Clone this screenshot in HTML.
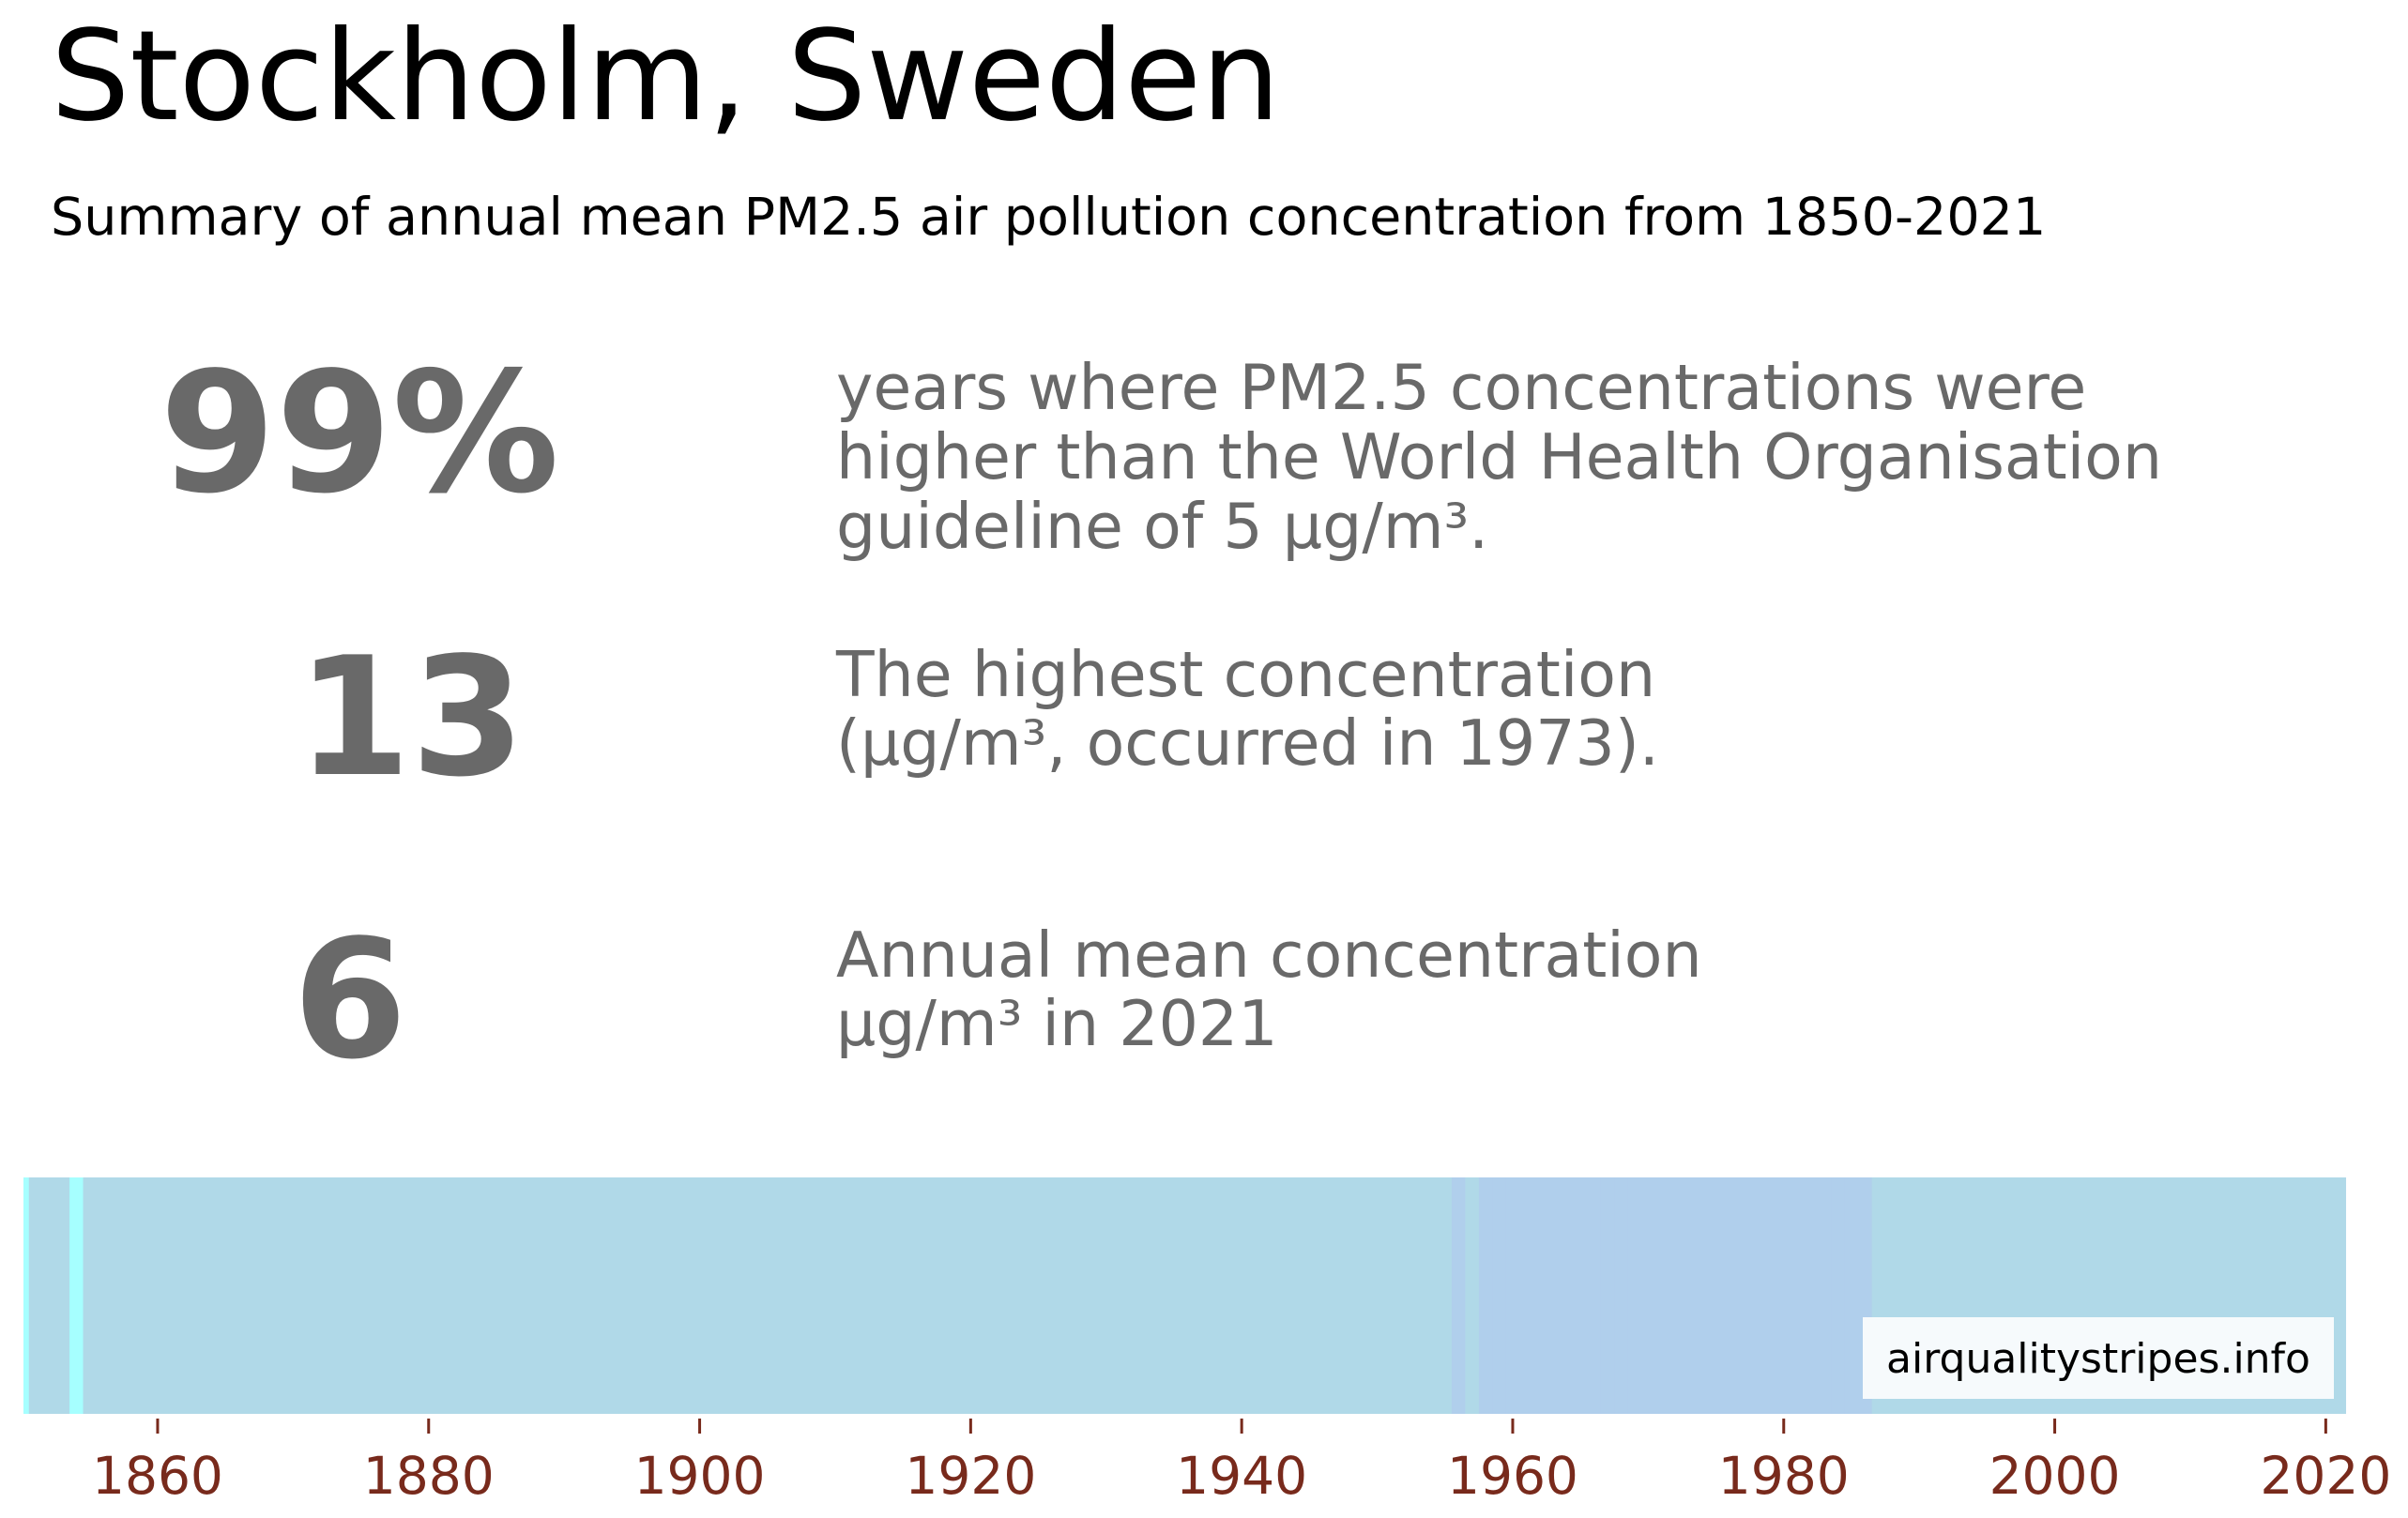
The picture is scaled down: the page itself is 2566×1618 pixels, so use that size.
<!DOCTYPE html>
<html><head><meta charset="utf-8"><style>
html,body{margin:0;padding:0;background:#fff;}
svg{display:block;font-family:"DejaVu Sans","Liberation Sans",sans-serif;}
</style></head><body>
<svg id="chart" width="2566" height="1618" viewBox="0 0 2566 1618">
<text x="54" y="127" font-size="133" fill="#000">Stockholm, Sweden</text>
<text x="54" y="250" font-size="55.5" fill="#000">Summary of annual mean PM2.5 air pollution concentration from 1850-2021</text>
<g fill="#696969">
<text x="170" y="523" font-size="178" font-weight="bold">99%</text>
<text x="891" y="436" font-size="66.5"><tspan x="891" y="436">years where PM2.5 concentrations were</tspan><tspan x="891" y="510">higher than the World Health Organisation</tspan><tspan x="891" y="584">guideline of 5 µg/m³.</tspan></text>
<text x="316" y="825" font-size="175" font-weight="bold">13</text>
<text x="891" y="742" font-size="66.5"><tspan x="891" y="742">The highest concentration</tspan><tspan x="891" y="815">(µg/m³, occurred in 1973).</tspan></text>
<text x="312" y="1126" font-size="175" font-weight="bold">6</text>
<text x="891" y="1041" font-size="66.5"><tspan x="891" y="1041">Annual mean concentration</tspan><tspan x="891" y="1114">µg/m³ in 2021</tspan></text>
</g>
<g id="stripes"></g>
<g id="axis"></g>
<rect x="1985" y="1404" width="502" height="87" fill="#f6fafc"/>
<text x="2236" y="1463" font-size="44" text-anchor="middle" fill="#000">airqualitystripes.info</text>
</svg>
<script>
const years = [];
for (let y = 1850; y <= 2021; y++) years.push(y);
const lowYears = [1850, 1854];
const highYears = [1956,1958,1959,1960,1961,1962,1963,1964,1965,1966,1967,1968,1969,1970,1971,1972,1973,1974,1975,1976,1977,1978,1979,1980,1981,1982,1983,1984,1985,1986];
const highValues = [10.2,10.4,10.8,11.1,11.4,11.7,11.9,12.1,12.3,12.4,12.5,12.6,12.7,12.8,12.9,12.9,13.0,12.9,12.8,12.6,12.4,12.2,11.9,11.6,11.3,11.0,10.7,10.5,10.3,10.1];
const baseValue = 7;
const latestValue = 6;
const tickYears = [1860,1880,1900,1920,1940,1960,1980,2000,2020];

const NS = "http://www.w3.org/2000/svg";
const X0 = 25, XMIN = 1850.1, K = 14.44, TOP = 1255, BOT = 1507;
function xs(v){ return X0 + (v - XMIN) * K; }
function color(v){ return v < 5 ? "#a6ffff" : (v < 10 ? "#b0d9e8" : "#b0cfec"); }
function valueFor(y){
  if (lowYears.indexOf(y) >= 0) return 4.5;
  const i = highYears.indexOf(y);
  if (i >= 0) return highValues[i];
  if (y === 2021) return latestValue;
  return baseValue;
}
const sg = document.getElementById("stripes");
years.forEach(function(y){
  const v = valueFor(y);
  const a = Math.max(xs(y - 0.5), X0), b = xs(y + 0.5);
  const r = document.createElementNS(NS, "rect");
  r.setAttribute("x", a); r.setAttribute("y", TOP);
  r.setAttribute("width", b - a + (y === 2021 ? 0 : 0.6)); r.setAttribute("height", BOT - TOP);
  r.setAttribute("fill", color(v));
  
  
  sg.appendChild(r);
});
const ag = document.getElementById("axis");
tickYears.forEach(function(t){
  const x = xs(t);
  const l = document.createElementNS(NS, "line");
  l.setAttribute("x1", x); l.setAttribute("x2", x);
  l.setAttribute("y1", 1512); l.setAttribute("y2", 1528);
  l.setAttribute("stroke", "#782a1c"); l.setAttribute("stroke-width", 3);
  
  
  ag.appendChild(l);
  const tx = document.createElementNS(NS, "text");
  tx.setAttribute("x", x); tx.setAttribute("y", 1592);
  tx.setAttribute("font-size", 55); tx.setAttribute("text-anchor", "middle");
  tx.setAttribute("fill", "#782a1c");
  tx.textContent = t;
  
  
  ag.appendChild(tx);
});
</script>
</body></html>
